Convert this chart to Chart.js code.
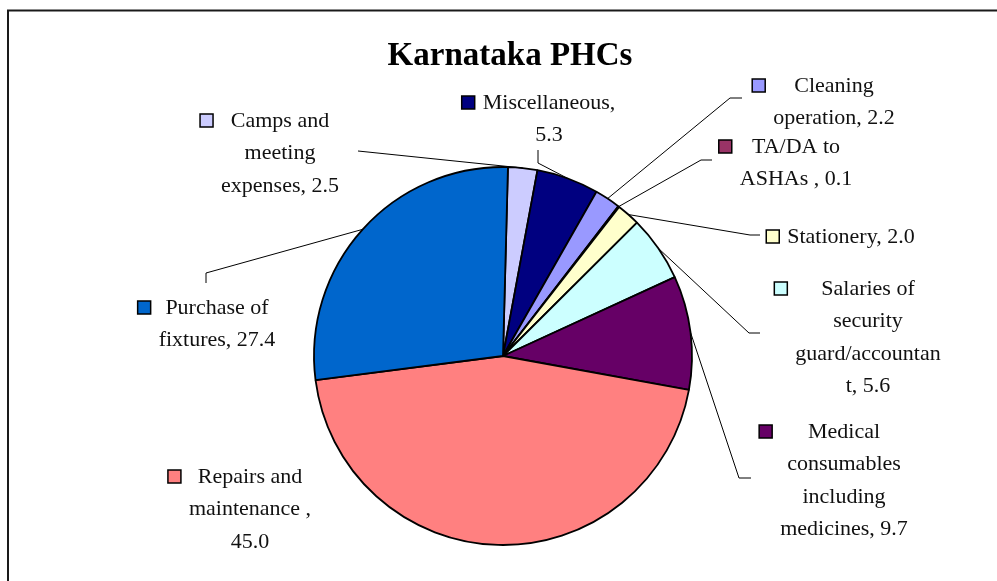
<!DOCTYPE html>
<html>
<head>
<meta charset="utf-8">
<title>Karnataka PHCs</title>
<script src="https://cdn.jsdelivr.net/npm/chart.js@4.4.1/dist/chart.umd.min.js"></script>
<style>
  html, body { margin: 0; padding: 0; background: #fff; }
  #wrap { position: relative; width: 997px; height: 581px; }
</style>
</head>
<body>
<div id="wrap"><canvas id="pie" width="997" height="581"></canvas></div>
<script>
// slices in drawing order, clockwise from 12 o'clock
const categories = [
  'Camps and meeting expenses',
  'Miscellaneous',
  'Cleaning operation',
  'TA/DA to ASHAs',
  'Stationery',
  'Salaries of security guard/accountant',
  'Medical consumables including medicines',
  'Repairs and maintenance',
  'Purchase of fixtures'
];
const values = [2.5, 5.3, 2.2, 0.1, 2.0, 5.6, 9.7, 45.0, 27.4];
// label text as it wraps in the picture
const labelLines = [
  ['Camps and', 'meeting', 'expenses, 2.5'],
  ['Miscellaneous,', '5.3'],
  ['Cleaning', 'operation, 2.2'],
  ['TA/DA to', 'ASHAs , 0.1'],
  ['Stationery, 2.0'],
  ['Salaries of', 'security', 'guard/accountan', 't, 5.6'],
  ['Medical', 'consumables', 'including', 'medicines, 9.7'],
  ['Repairs and', 'maintenance ,', '45.0'],
  ['Purchase of', 'fixtures, 27.4']
];
const colors = ['#CCCCFF', '#000080', '#9999FF', '#993366', '#FFFFCC', '#CCFFFF', '#660066', '#FF8080', '#0066CC'];
const chartTitle = 'Karnataka PHCs';

const FONT = '"Liberation Serif", "DejaVu Serif", serif';

// where each label block sits (center x, first line center y) and its leader path
const labelLayout = [
  { x: 280, y: 121, lead: [[358, 151]] },
  { x: 549, y: 103, lead: [[538, 150], [538, 163]] },
  { x: 834, y: 86, lead: [[742, 98], [730, 98]] },
  { x: 796, y: 147, lead: [[712, 160], [701, 160]] },
  { x: 851, y: 237, lead: [[760, 235], [750, 235]] },
  { x: 868, y: 289, lead: [[760, 333], [749, 333]] },
  { x: 844, y: 432, lead: [[751, 478], [739, 478]] },
  { x: 250, y: 477, lead: null },
  { x: 217, y: 308, lead: [[206, 283], [206, 273]] }
];

const labelPlugin = {
  id: 'pieLabels',
  beforeDraw(chart) {
    const ctx = chart.ctx;
    ctx.save();
    ctx.fillStyle = '#fff';
    ctx.fillRect(0, 0, chart.width, chart.height);
    // chart frame (only top and left edges fall inside the picture)
    ctx.strokeStyle = '#1a1a1a';
    ctx.lineWidth = 2;
    ctx.beginPath();
    ctx.moveTo(8, chart.height);
    ctx.lineTo(8, 10.5);
    ctx.lineTo(chart.width, 10.5);
    ctx.stroke();
    ctx.restore();
  },
  afterDraw(chart) {
    const ctx = chart.ctx;
    const arcs = chart.getDatasetMeta(0).data;
    ctx.save();
    // title
    ctx.font = 'bold 33px ' + FONT;
    ctx.fillStyle = '#000';
    ctx.textAlign = 'center';
    ctx.textBaseline = 'alphabetic';
    ctx.fillText(chartTitle, 510, 65);

    ctx.font = '22px ' + FONT;
    ctx.textBaseline = 'middle';
    const lh = 32.5;
    arcs.forEach((arc, i) => {
      const L = labelLayout[i];
      const lines = labelLines[i];
      // leader line to the middle of the slice's outer edge
      if (L.lead) {
        const { x, y, startAngle, endAngle, outerRadius } = arc.getProps(['x', 'y', 'startAngle', 'endAngle', 'outerRadius'], true);
        const mid = (startAngle + endAngle) / 2;
        const px = x + Math.cos(mid) * outerRadius;
        const py = y + Math.sin(mid) * outerRadius;
        ctx.strokeStyle = '#000';
        ctx.lineWidth = 1;
        ctx.beginPath();
        ctx.moveTo(L.lead[0][0], L.lead[0][1]);
        L.lead.slice(1).forEach(p => ctx.lineTo(p[0], p[1]));
        ctx.lineTo(px, py);
        ctx.stroke();
      }
      // text block
      let maxW = 0;
      lines.forEach(t => { maxW = Math.max(maxW, ctx.measureText(t).width); });
      ctx.fillStyle = '#111';
      lines.forEach((t, k) => ctx.fillText(t, L.x, L.y + k * lh));
      // legend key left of the block
      const kx = L.x - maxW / 2 - 21;
      ctx.fillStyle = colors[i];
      ctx.fillRect(kx, L.y - 7, 13, 13);
      ctx.strokeStyle = '#000';
      ctx.lineWidth = 1.5;
      ctx.strokeRect(kx, L.y - 7, 13, 13);
    });
    ctx.restore();
  }
};

new Chart(document.getElementById('pie'), {
  type: 'pie',
  data: {
    labels: categories,
    datasets: [{
      data: values,
      backgroundColor: colors,
      borderColor: '#000',
      borderWidth: 1.8,
      hoverOffset: 0,
      radius: 189
    }]
  },
  options: {
    responsive: false,
    animation: false,
    rotation: 1.5,
    layout: { padding: { left: 9, right: 0, top: 131, bottom: 0 } },
    plugins: {
      legend: { display: false },
      tooltip: { enabled: false },
      title: { display: false }
    }
  },
  plugins: [labelPlugin]
});
</script>
</body>
</html>
